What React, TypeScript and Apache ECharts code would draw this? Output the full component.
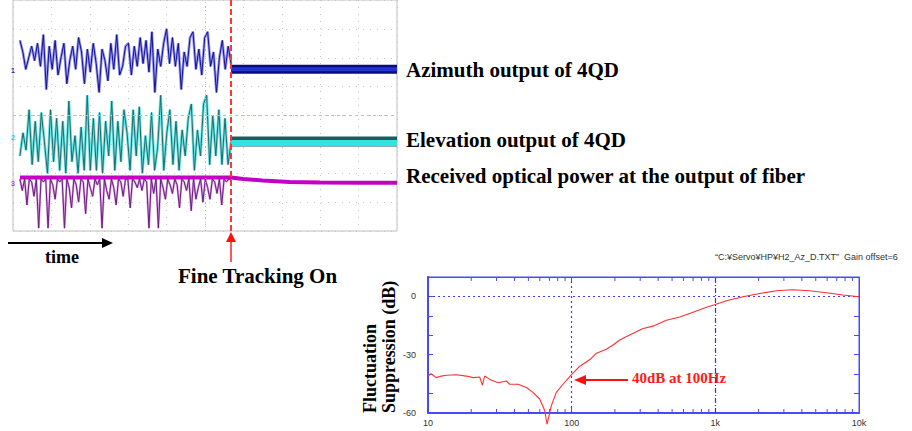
import React, { useEffect, useRef } from "react";
import * as echarts from "echarts";

// ---------- Oscilloscope panel (time 0..100, 10 per division; vertical -40..40, 10 per division)
const traceStartTime = 1.8;
const trackingOnTime = 56.8;
const scopeEndTime = 100;

const azimuthBefore = [26, 22, 16, 20, 24, 19, 25, 17, 28, 9, 24, 16, 26, 14, 20, 25, 11, 19, 24, 16, 27, 22, 11, 23, 15, 25, 18, 8, 23, 19, 12, 25, 16, 28, 14, 17, 24, 25, 14, 24, 17, 27, 18, 26, 15, 29, 8, 23, 17, 25, 30, 18, 27, 17, 25, 9, 22, 17, 27, 29, 16, 23, 14, 27, 29, 17, 22, 8, 20, 26, 16, 24, 18];
const azimuthAfter = 16;

const elevationBefore = [-14, -6, -12, 2, -17, -2, -16, 1, -9, -20, 2, -16, -1, -19, -2, -20, 5, -16, -7, -20, -4, -19, 7, -19, -1, -19, 1, -20, -2, -14, 5, -19, -2, -16, 2, -6, -19, 2, -14, 3, -20, -7, -17, 1, -19, -11, 7, -19, -6, 2, -17, -2, -19, -5, -14, -1, 4, -19, -5, -14, 4, 7, -17, 0, -14, 2, -17, -1, -17, -9];
const elevationAfter = -9;

const powerBefore = [-22, -26, -22, -31, -22, -23, -28, -22, -39, -22, -23, -22, -39, -22, -24, -29, -22, -23, -22, -39, -22, -25, -32, -22, -24, -30, -22, -23, -34, -22, -25, -28, -22, -24, -22, -39, -22, -26, -29, -22, -25, -31, -22, -23, -28, -22, -22, -32, -22, -23, -25, -22, -26, -22, -23, -39, -22, -27, -22, -39, -22, -25, -29, -22, -24, -27, -22, -24, -32, -22, -23, -26, -22, -33, -22, -29, -25, -22, -30, -22, -25, -29, -22, -23, -27, -22, -31, -22, -23, -22, -22];
const powerLevelTimes = [1.8, 56.8, 60, 65, 72, 80, 90, 100];
const powerLevelValues = [-21.5, -21.5, -22, -22.5, -23, -23.2, -23.3, -23.3];

// ---------- Fluctuation suppression vs frequency
const freqHz = [10, 10.5, 11.4, 12.4, 13.4, 15.8, 18.5, 20.6, 22.9, 23.9, 24.8, 26.9, 30.7, 35.1, 37, 42.3, 48.4, 53.8, 59.9, 64.9, 67.4, 72.2, 78.2, 87, 100, 114, 134, 149, 174, 194, 216, 253, 314, 368, 456, 565, 699, 866, 1000, 1193, 1558, 2035, 2658, 3472, 4535, 5924, 7738, 10000];
const suppressionDb = [-41, -39.8, -41.8, -41, -40.6, -40.3, -41, -41.8, -41.5, -45.7, -41, -42.7, -44.4, -43.5, -45.2, -45.2, -46.9, -49.4, -52.8, -58.7, -65.8, -56.2, -49.4, -45.2, -40.1, -35.9, -32.5, -29.2, -27.2, -25, -22.4, -19.9, -16.5, -15.3, -12.3, -10.6, -8.1, -5.6, -4.2, -2.2, -0.2, 1.5, 2.9, 3.4, 2.9, 1.9, 0.7, -0.2];
const minorTickFreqs = [20, 30, 40, 50, 60, 70, 80, 90, 200, 300, 400, 500, 600, 700, 800, 900, 2000, 3000, 4000, 5000, 6000, 7000, 8000, 9000];
const freqTickLabels: Record<number, string> = { 10: "10", 100: "100", 1000: "1k", 10000: "10k" };

const titleText = "\u201CC:\u00A5Servo\u00A5HP\u00A5H2_Az_D.TXT\u201D  Gain offset=6";

function sampled(values: number[]): number[][] {
  const n = values.length - 1;
  return values.map((v, i) => [traceStartTime + ((trackingOnTime - traceStartTime) * i) / n, v]);
}

const SERIF = '"Liberation Serif", "Times New Roman", serif';
const BLUE = "#4848ff";

export default function App() {
  const ref = useRef<HTMLDivElement>(null);
  useEffect(() => {
    if (!ref.current) return;
    const chart = echarts.init(ref.current, undefined, { renderer: "svg" });

    const scopeLine = (name: string, data: number[][], color: string, width: number, z = 2) => ({
      name,
      type: "line",
      xAxisIndex: 0,
      yAxisIndex: 0,
      data,
      showSymbol: false,
      silent: true,
      z,
      lineStyle: { color, width },
    });

    const refLine = (xi: number, yi: number, item: any, lineStyle: any, z = 3) => ({
      type: "line",
      xAxisIndex: xi,
      yAxisIndex: yi,
      data: [],
      silent: true,
      z,
      color: lineStyle.color,
      markLine: {
        silent: true,
        symbol: "none",
        label: { show: false },
        animation: false,
        lineStyle,
        data: [{ ...item, lineStyle }],
      },
    });

    const azData = sampled(azimuthBefore);
    const elData = sampled(elevationBefore);
    const pwData = sampled(powerBefore);
    const azFlat = [[trackingOnTime, azimuthAfter], [scopeEndTime, azimuthAfter]];
    const elFlat = [[trackingOnTime, elevationAfter - 0.5], [scopeEndTime, elevationAfter - 0.5]];
    const elFlatOuter = [[trackingOnTime, elevationAfter], [scopeEndTime, elevationAfter]];
    const pwLevel = powerLevelTimes.map((t, i) => [t, powerLevelValues[i]]);

    const textStyle = (text: string, size: number, fill = "#000", extra: any = {}) => ({
      text,
      font: `bold ${size}px ${SERIF}`,
      fill,
      verticalAlign: "middle",
      textVerticalAlign: "middle",
      ...extra,
    });

    chart.setOption({
      animation: false,
      backgroundColor: "#ffffff",
      grid: [
        { left: 13, top: -1, width: 384, height: 232, show: true, borderColor: "#bdbdbd", borderWidth: 1, backgroundColor: "#fff" },
        { left: 428, top: 277, width: 431, height: 136, show: true, borderColor: BLUE, borderWidth: 1 },
      ],
      xAxis: [
        {
          type: "value", gridIndex: 0, min: 0, max: 100, interval: 10,
          axisLine: { show: false }, axisTick: { show: false }, axisLabel: { show: false },
          splitLine: { show: true, lineStyle: { color: "#c4c4c4", type: [1, 6], width: 1 } },
        },
        {
          type: "log", gridIndex: 1, logBase: 10, min: 10, max: 10000, position: "bottom",
          axisLine: { show: true, onZero: false, lineStyle: { color: BLUE, width: 2 } },
          axisTick: { show: true, inside: true, length: 5, lineStyle: { color: BLUE } },
          axisLabel: {
            show: true, color: "#333", fontSize: 9, margin: 5,
            fontFamily: '"Liberation Sans", Arial, sans-serif',
            formatter: (v: number) => freqTickLabels[Math.round(v)] ?? "",
          },
          splitLine: { show: false },
        },
        {
          type: "log", gridIndex: 1, logBase: 10, min: 10, max: 10000, position: "top",
          axisLine: { show: true, onZero: false, lineStyle: { color: BLUE, width: 1 } },
          axisTick: { show: true, inside: true, length: 5, lineStyle: { color: BLUE } },
          axisLabel: { show: false }, splitLine: { show: false },
        },
      ],
      yAxis: [
        {
          type: "value", gridIndex: 0, min: -40, max: 40, interval: 10,
          axisLine: { show: false }, axisTick: { show: false }, axisLabel: { show: false },
          splitLine: { show: true, lineStyle: { color: "#c4c4c4", type: [1, 6], width: 1 } },
        },
        {
          type: "value", gridIndex: 1, min: -60, max: 10, interval: 10, position: "left",
          axisLine: { show: true, onZero: false, lineStyle: { color: BLUE, width: 2 } },
          axisTick: { show: true, inside: true, length: 5, lineStyle: { color: BLUE } },
          axisLabel: {
            show: true, color: "#333", fontSize: 9, margin: 12,
            fontFamily: '"Liberation Sans", Arial, sans-serif',
            formatter: (v: number) => (v <= 0 && v % 30 === 0 ? String(v) : ""),
          },
          splitLine: { show: false },
        },
        {
          type: "value", gridIndex: 1, min: -60, max: 10, interval: 10, position: "right",
          axisLine: { show: true, onZero: false, lineStyle: { color: BLUE, width: 1 } },
          axisTick: { show: true, inside: true, length: 5, lineStyle: { color: BLUE } },
          axisLabel: { show: false }, splitLine: { show: false },
        },
      ],
      series: [
        // graticule center lines
        refLine(0, 0, { xAxis: 50 }, { color: "#d8b880", type: [1, 3], width: 1 }, 1),
        refLine(0, 0, { yAxis: 0 }, { color: "#cbbf9a", type: [3, 3], width: 1 }, 1),
        scopeLine("azimuth-halo", azData, "#9a9ae6", 2.8, 2),
        scopeLine("azimuth", azData, "#12129a", 1, 3),
        scopeLine("azimuth-band-outer", azFlat, "#0c0c7e", 9, 3),
        scopeLine("azimuth-band-inner", azFlat, "#2234d0", 4, 4),
        scopeLine("elevation-halo", elData, "#6fe3e3", 2.8, 2),
        scopeLine("elevation", elData, "#1c6e70", 1, 3),
        scopeLine("elevation-band-outer", elFlatOuter, "#1d5c5c", 10, 3),
        scopeLine("elevation-band-inner", elFlat, "#35e2e2", 6, 4),
        scopeLine("power-halo", pwData, "#d9a0dd", 2.2, 2),
        scopeLine("power", pwData, "#6a1f80", 1, 3),
        scopeLine("power-level", pwLevel, "#c400c8", 4, 4),
        refLine(0, 0, { xAxis: trackingOnTime }, { color: "#ff3535", type: [6, 3], width: 2 }, 6),
        // frequency response reference lines
        refLine(1, 1, { yAxis: 0 }, { color: "#3c3cff", type: [2, 3], width: 1.2 }, 3),
        refLine(1, 1, { xAxis: 100 }, { color: "#3c3cff", type: [2, 3], width: 1.2 }, 3),
        refLine(1, 1, { xAxis: 1000 }, { color: "#3030e0", type: [5, 2, 1, 2], width: 1.2 }, 3),
        {
          name: "suppression",
          type: "line",
          xAxisIndex: 1,
          yAxisIndex: 1,
          data: freqHz.map((f, i) => [f, suppressionDb[i]]),
          showSymbol: false,
          clip: false,
          silent: true,
          z: 5,
          lineStyle: { color: "#ff3030", width: 1.1 },
        },
        {
          type: "custom",
          xAxisIndex: 1,
          yAxisIndex: 1,
          silent: true,
          data: minorTickFreqs.map((f) => [f]),
          encode: { x: 0 },
          renderItem: (_params: any, api: any) => {
            const f = api.value(0);
            const b = api.coord([f, -60]);
            const t = api.coord([f, 10]);
            return {
              type: "group",
              children: [
                { type: "line", shape: { x1: b[0], y1: b[1], x2: b[0], y2: b[1] - 4 }, style: { stroke: BLUE, lineWidth: 1 } },
                { type: "line", shape: { x1: t[0], y1: t[1], x2: t[0], y2: t[1] + 4 }, style: { stroke: BLUE, lineWidth: 1 } },
              ],
            };
          },
        },
      ],
      graphic: [
        // trace labels
        { type: "text", x: 406, y: 70, style: textStyle("Azimuth output of 4QD", 21) },
        { type: "text", x: 406, y: 140, style: textStyle("Elevation output of 4QD", 21) },
        { type: "text", x: 406, y: 176, style: textStyle("Received optical power at the output of fiber", 21) },
        // channel markers
        { type: "text", x: 11, y: 70, style: { text: "1", font: "bold 7px sans-serif", fill: "#2030c0", verticalAlign: "middle", textVerticalAlign: "middle" } },
        { type: "text", x: 11, y: 137, style: { text: "2", font: "bold 7px sans-serif", fill: "#30c8d0", verticalAlign: "middle", textVerticalAlign: "middle" } },
        { type: "text", x: 11, y: 183, style: { text: "3", font: "bold 7px sans-serif", fill: "#b040b0", verticalAlign: "middle", textVerticalAlign: "middle" } },
        // time arrow
        { type: "line", shape: { x1: 8, y1: 243, x2: 104, y2: 243 }, style: { stroke: "#000", lineWidth: 2 } },
        { type: "polygon", shape: { points: [[102, 238], [113, 243], [102, 248]] }, style: { fill: "#000" } },
        { type: "text", x: 45, y: 257, style: textStyle("time", 18) },
        // fine tracking arrow
        { type: "line", shape: { x1: 231, y1: 241, x2: 231, y2: 262 }, style: { stroke: "#ff2020", lineWidth: 1.5 } },
        { type: "polygon", shape: { points: [[226, 242], [231, 232], [236, 242]] }, style: { fill: "#ff1010" } },
        { type: "text", x: 178, y: 276, style: textStyle("Fine Tracking On", 21) },
        // frequency chart annotations
        { type: "text", x: 715, y: 257, style: { text: titleText, font: '9px "Liberation Sans", Arial, sans-serif', fill: "#333", verticalAlign: "middle", textVerticalAlign: "middle" } },
        { type: "line", shape: { x1: 584, y1: 380, x2: 628, y2: 380 }, style: { stroke: "#ff1010", lineWidth: 2 } },
        { type: "polygon", shape: { points: [[586, 375], [574, 380], [586, 385]] }, style: { fill: "#ff1010" } },
        { type: "text", x: 632, y: 378, style: textStyle("40dB at 100Hz", 15, "#ff1a1a") },
        // rotated y-axis name
        { type: "text", x: 370, y: 413, rotation: Math.PI / 2, style: textStyle("Fluctuation", 18, "#000", { align: "left", textAlign: "left" }) },
        { type: "text", x: 389, y: 413, rotation: Math.PI / 2, style: textStyle("Suppression (dB)", 18, "#000", { align: "left", textAlign: "left" }) },
      ],
    });

    return () => chart.dispose();
  }, []);

  return <div ref={ref} style={{ position: "fixed", left: 0, top: 0, width: 912, height: 431, background: "#fff" }} />;
}
